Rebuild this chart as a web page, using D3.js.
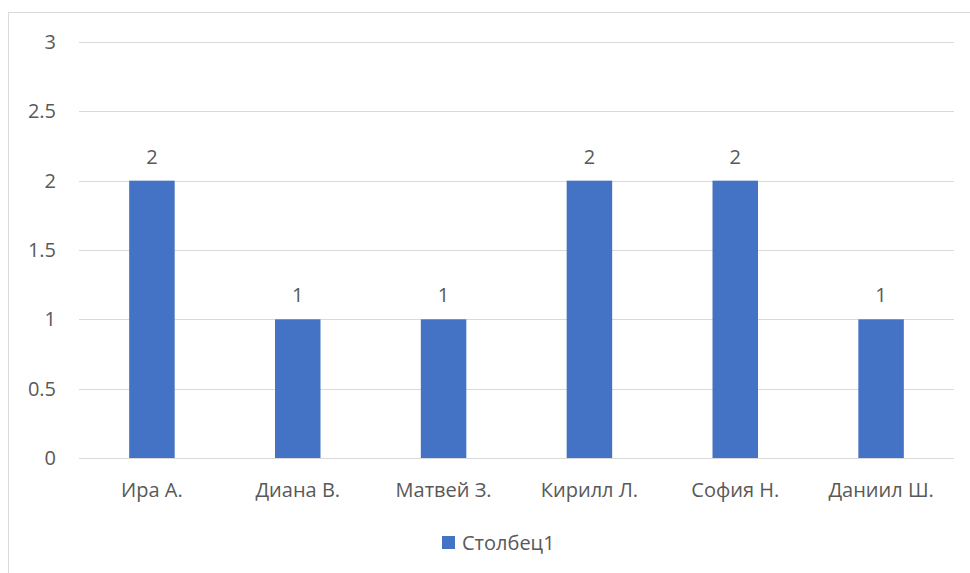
<!DOCTYPE html>
<html>
<head>
<meta charset="utf-8">
<script src="https://cdn.jsdelivr.net/npm/d3@7"></script>
<style>
  html, body { margin: 0; padding: 0; background: #fff; }
  svg { display: block; }
  text { font-family: "Open Sans", "Noto Sans", sans-serif; fill: #595959; }
</style>
</head>
<body>
<svg id="chart" width="970" height="573"></svg>
<script>
// Chart data
const categories = ["Ира А.", "Диана В.", "Матвей З.", "Кирилл Л.", "София Н.", "Даниил Ш."];
const values = [2, 1, 1, 2, 2, 1];
const yTicks = [0, 0.5, 1, 1.5, 2, 2.5, 3];
const seriesName = "Столбец1";

const W = 970, H = 573;
const plot = { left: 79, right: 954, top: 42, bottom: 458 };
const barColor = "#4472C4";
const fontSize = 20;

const svg = d3.select("#chart");

// Outer chart frame (left and top edges visible)
svg.append("rect")
  .attr("x", 8.5).attr("y", 12.5)
  .attr("width", W + 10).attr("height", H + 10)
  .attr("fill", "#fff")
  .attr("stroke", "#d9d9d9").attr("stroke-width", 1);

const x = d3.scaleBand()
  .domain(categories)
  .range([plot.left, plot.right])
  .paddingInner(0.688)
  .paddingOuter(0.344);

const y = d3.scaleLinear()
  .domain([0, 3])
  .range([plot.bottom, plot.top]);

// Horizontal gridlines
svg.append("g")
  .selectAll("line")
  .data(yTicks)
  .join("line")
  .attr("x1", plot.left).attr("x2", plot.right)
  .attr("y1", d => Math.round(y(d)) + 0.5)
  .attr("y2", d => Math.round(y(d)) + 0.5)
  .attr("stroke", "#d9d9d9").attr("stroke-width", 1);

// Y axis labels
const yAxis = d3.axisLeft(y).tickValues(yTicks).tickSize(0).tickPadding(0)
  .tickFormat(d => String(d));
const yg = svg.append("g")
  .attr("transform", `translate(${plot.left - 23},0)`)
  .call(yAxis);
yg.select(".domain").remove();
yg.selectAll("text")
  .attr("font-size", fontSize)
  .attr("font-family", null)
  .attr("fill", "#595959");

// Bars
svg.append("g")
  .selectAll("rect")
  .data(values)
  .join("rect")
  .attr("x", (d, i) => x(categories[i]))
  .attr("width", x.bandwidth())
  .attr("y", d => y(d))
  .attr("height", d => y(0) - y(d))
  .attr("fill", barColor);

// Value labels above the bars
svg.append("g")
  .selectAll("text")
  .data(values)
  .join("text")
  .attr("x", (d, i) => x(categories[i]) + x.bandwidth() / 2)
  .attr("y", d => y(d) - 24)
  .attr("dy", "0.35em")
  .attr("text-anchor", "middle")
  .attr("font-size", fontSize)
  .text(d => d);

// X axis category labels
const xAxis = d3.axisBottom(x).tickSize(0).tickPadding(0);
const xg = svg.append("g")
  .attr("transform", `translate(0,${plot.bottom + 32})`)
  .call(xAxis);
xg.select(".domain").remove();
xg.selectAll("text")
  .attr("font-size", fontSize)
  .attr("font-family", null)
  .attr("fill", "#595959")
  .attr("y", 0)
  .attr("dy", "0.35em");

// Legend
const legend = svg.append("g").attr("transform", "translate(442,536)");
legend.append("rect")
  .attr("width", 13).attr("height", 13)
  .attr("fill", barColor);
legend.append("text")
  .attr("x", 20).attr("y", 6.5)
  .attr("dy", "0.35em")
  .attr("font-size", fontSize)
  .text(seriesName);
</script>
</body>
</html>
